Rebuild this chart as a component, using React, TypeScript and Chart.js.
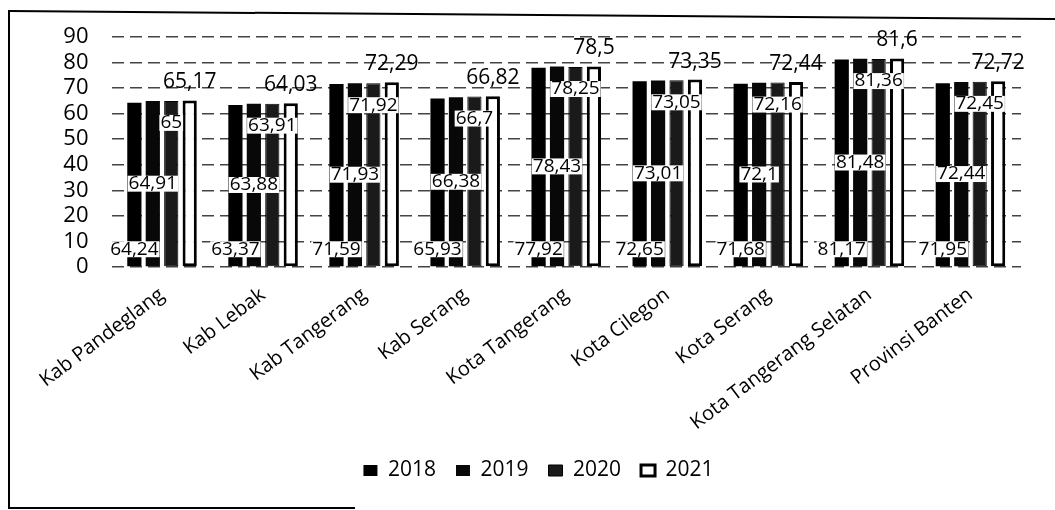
import React, { useEffect, useRef } from "react";
import { Chart, registerables } from "chart.js";

Chart.register(...registerables);

const categories = [
  "Kab Pandeglang",
  "Kab Lebak",
  "Kab Tangerang",
  "Kab Serang",
  "Kota Tangerang",
  "Kota Cilegon",
  "Kota Serang",
  "Kota Tangerang Selatan",
  "Provinsi Banten",
];
const seriesNames = ["2018", "2019", "2020", "2021"];
const values2018 = [64.24, 63.37, 71.59, 65.93, 77.92, 72.65, 71.68, 81.17, 71.95];
const values2019 = [64.91, 63.88, 71.93, 66.38, 78.43, 73.01, 72.1, 81.48, 72.44];
const values2020 = [65, 63.91, 71.92, 66.7, 78.25, 73.05, 72.16, 81.36, 72.45];
const values2021 = [65.17, 64.03, 72.29, 66.82, 78.5, 73.35, 72.44, 81.6, 72.72];
const yMin = 0;
const yMax = 90;
const yStep = 10;

const FONT = "'Open Sans', 'DejaVu Sans', sans-serif";

function fmt(v: number): string {
  return String(v).replace(".", ",");
}

export default function App() {
  const ref = useRef<HTMLCanvasElement>(null);

  useEffect(() => {
    document.body.style.margin = "0";
    if (!ref.current) return;

    const labelPlugin = {
      id: "valueLabels",
      afterDatasetsDraw(chart: any) {
        const ctx = chart.ctx;
        ctx.save();
        chart.data.datasets.forEach((ds: any, di: number) => {
          const meta = chart.getDatasetMeta(di);
          meta.data.forEach((el: any, i: number) => {
            const v = ds.data[i] as number;
            const txt = fmt(v);
            const p = el.getProps(["x", "y", "base"], true);
            let cy: number;
            let size = 19;
            let bg = true;
            if (di === 0) cy = p.base - 17;
            else if (di === 1) cy = (p.y + p.base) / 2;
            else if (di === 2) cy = p.y + 22;
            else {
              cy = p.y - 18;
              size = 21;
              bg = false;
            }
            ctx.font = `${size}px ${FONT}`;
            const w = ctx.measureText(txt).width;
            if (bg) {
              ctx.fillStyle = "#ffffff";
              ctx.fillRect(p.x - w / 2 - 1, cy - size * 0.42, w + 2, size * 0.84);
            }
            ctx.fillStyle = "#000000";
            ctx.textAlign = "center";
            ctx.textBaseline = "middle";
            ctx.fillText(txt, p.x, cy);
          });
        });
        ctx.restore();
      },
    };

    const chart = new Chart(ref.current, {
      type: "bar",
      data: {
        labels: categories,
        datasets: [
          {
            label: seriesNames[0],
            data: values2018,
            backgroundColor: "#000000",
            borderColor: "#000000",
            borderWidth: 0,
          },
          {
            label: seriesNames[1],
            data: values2019,
            backgroundColor: "#080808",
            borderColor: "#000000",
            borderWidth: 0,
          },
          {
            label: seriesNames[2],
            data: values2020,
            backgroundColor: "#1a1a1a",
            borderColor: "#000000",
            borderWidth: 1,
            borderSkipped: false,
          },
          {
            label: seriesNames[3],
            data: values2021,
            backgroundColor: "#ffffff",
            borderColor: "#000000",
            borderWidth: 3,
            borderSkipped: false,
          },
        ],
      },
      options: {
        animation: false,
        responsive: false,
        maintainAspectRatio: false,
        layout: { padding: { left: 56, right: 34, top: 37, bottom: 19 } },
        datasets: {
          bar: { categoryPercentage: 0.73, barPercentage: 0.77 },
        },
        plugins: {
          legend: {
            position: "bottom",
            labels: {
              boxWidth: 14,
              boxHeight: 11,
              padding: 20,
              color: "#000",
              font: { size: 21, family: FONT },
            },
          },
          tooltip: { enabled: false },
        },
        scales: {
          x: {
            grid: { display: false },
            border: { display: false },
            ticks: {
              color: "#000",
              font: { size: 20, family: FONT },
              maxRotation: 37,
              minRotation: 37,
              autoSkip: false,
              padding: 8,
            },
            afterFit: (s: any) => {
              s.height = 173;
            },
          },
          y: {
            min: yMin,
            max: yMax,
            ticks: {
              stepSize: yStep,
              autoSkip: false,
              color: "#000",
              font: { size: 22, family: FONT },
              padding: 23,
            },
            grid: { color: "#444444", lineWidth: 1.5, drawTicks: false },
            border: { display: false, dash: [12, 6] },
            afterFit: (s: any) => {
              s.width = 55.5;
            },
          },
        },
      },
      plugins: [labelPlugin],
    } as any);

    return () => chart.destroy();
  }, []);

  return (
    <div style={{ position: "relative", width: 1055, height: 510, overflow: "hidden", background: "#fff" }}>
      <canvas ref={ref} width={1055} height={510} style={{ position: "absolute", left: 0, top: 0 }} />
      <svg
        width={1055}
        height={510}
        style={{ position: "absolute", left: 0, top: 0, pointerEvents: "none" }}
      >
        <line x1={9} y1={11} x2={1055} y2={19} stroke="#000" strokeWidth={2} />
        <line x1={9} y1={10} x2={9} y2={509} stroke="#000" strokeWidth={2} />
        <line x1={8} y1={508} x2={355} y2={508} stroke="#000" strokeWidth={2} />
      </svg>
    </div>
  );
}
